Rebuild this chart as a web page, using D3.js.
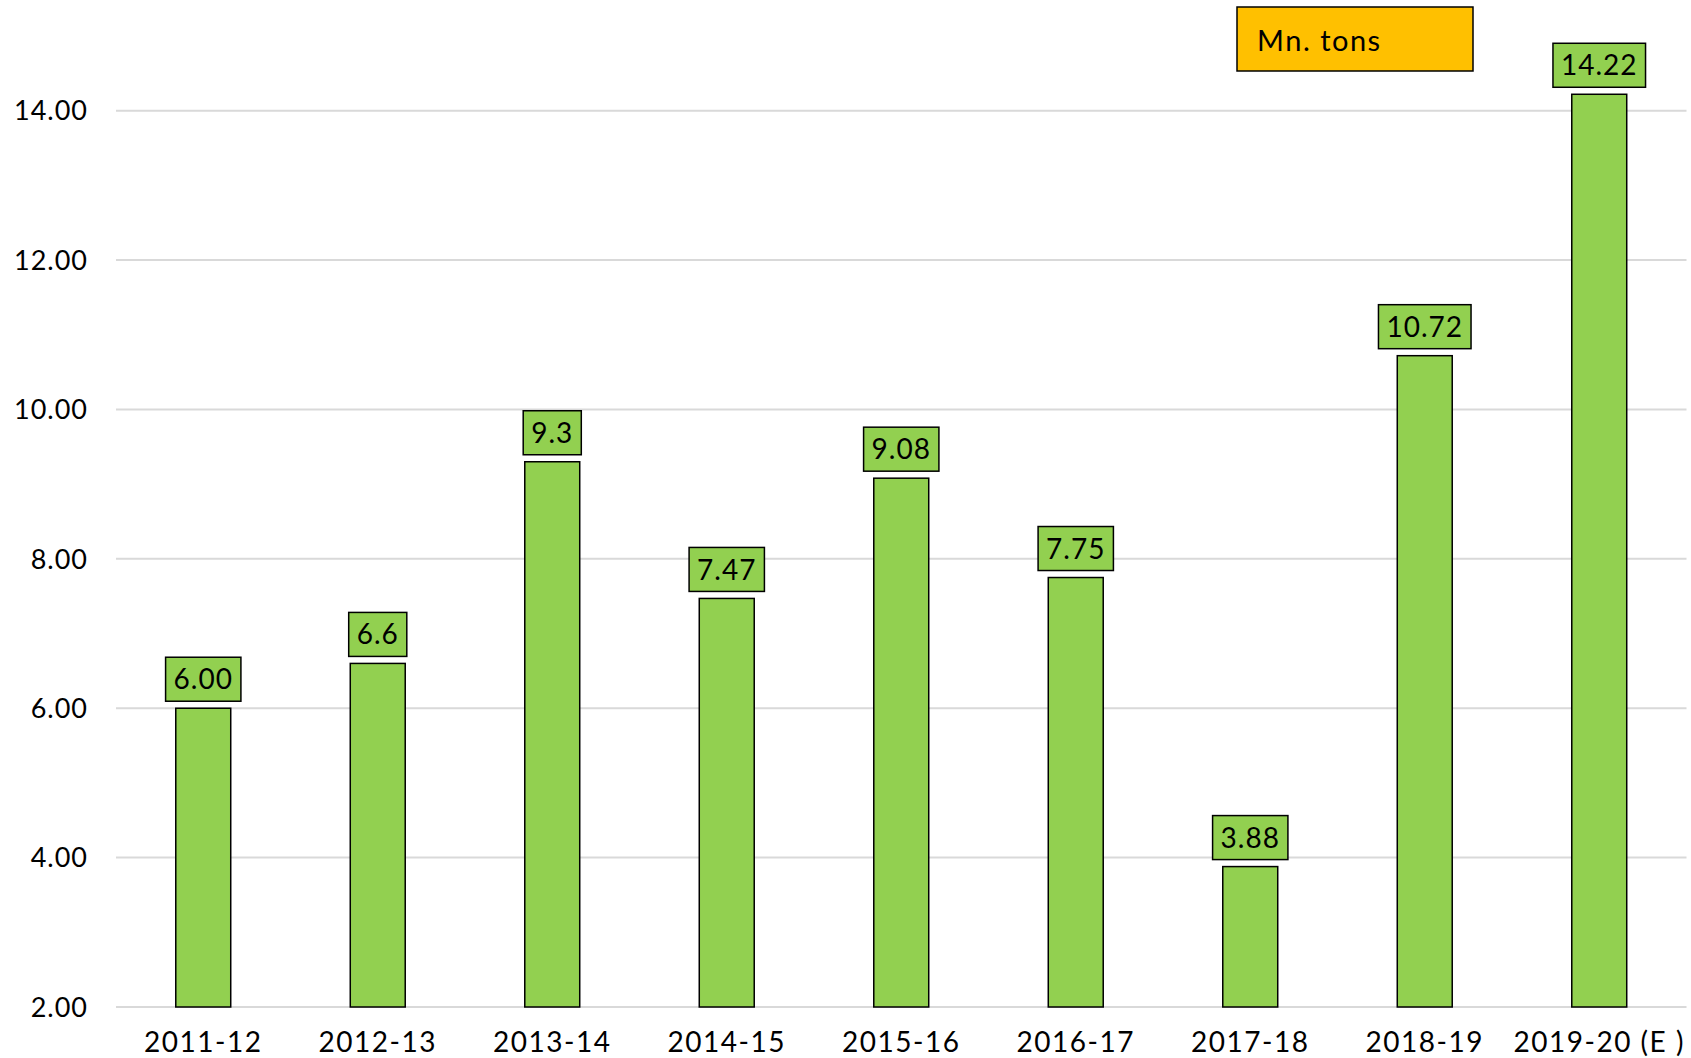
<!DOCTYPE html>
<html>
<head>
<meta charset="utf-8">
<script src="https://cdn.jsdelivr.net/npm/d3@7"></script>
<style>
  body { margin: 0; background: #fff; }
  text { font-family: "Century Gothic", Lato, "Noto Sans", sans-serif; fill: #000; }
</style>
</head>
<body>
<svg id="chart" width="1691" height="1058"></svg>
<script>
const years = ['2011-12', '2012-13', '2013-14', '2014-15', '2015-16', '2016-17', '2017-18', '2018-19', '2019-20 (E )'];
const values = [6.00, 6.6, 9.3, 7.47, 9.08, 7.75, 3.88, 10.72, 14.22];
const valueLabels = ['6.00', '6.6', '9.3', '7.47', '9.08', '7.75', '3.88', '10.72', '14.22'];
const yTicks = [2, 4, 6, 8, 10, 12, 14];
const unitLabel = 'Mn. tons';

const svg = d3.select('#chart');
const plotLeft = 116, plotRight = 1686.5, plotTop = 110.7, plotBottom = 1007;

const x = d3.scaleBand().domain(years).range([plotLeft, plotRight]).paddingInner(0.685).paddingOuter(0.3425);
const y = d3.scaleLinear().domain([2, 14]).range([plotBottom, plotTop]);

// gridlines
svg.append('g').selectAll('line')
  .data(yTicks)
  .enter().append('line')
  .attr('x1', plotLeft).attr('x2', plotRight)
  .attr('y1', d => y(d)).attr('y2', d => y(d))
  .attr('stroke', '#d9d9d9')
  .attr('stroke-width', 2);

// y tick labels
svg.append('g').selectAll('text')
  .data(yTicks)
  .enter().append('text')
  .attr('x', 88)
  .attr('y', d => y(d))
  .attr('dy', '0.36em')
  .attr('text-anchor', 'end')
  .style('font-size', '27px')
  .style('letter-spacing', '1px')
  .text(d => d.toFixed(2));

// bars
svg.append('g').selectAll('rect')
  .data(values)
  .enter().append('rect')
  .attr('x', (d, i) => x(years[i]))
  .attr('y', d => y(d))
  .attr('width', x.bandwidth())
  .attr('height', d => y(2) - y(d))
  .attr('fill', '#92d050')
  .attr('stroke', '#000')
  .attr('stroke-width', 1.5);

// x labels
svg.append('g').selectAll('text')
  .data(years)
  .enter().append('text')
  .attr('x', d => x(d) + x.bandwidth() / 2)
  .attr('y', 1052)
  .attr('text-anchor', 'middle')
  .style('font-size', '28px')
  .style('letter-spacing', '1.5px')
  .text(d => d);

// value label boxes
const lab = svg.append('g').selectAll('g')
  .data(values)
  .enter().append('g');

lab.each(function (d, i) {
  const g = d3.select(this);
  const cx = x(years[i]) + x.bandwidth() / 2;
  const boxBottom = y(d) - 7;
  const rect = g.append('rect');
  const t = g.append('text')
    .attr('x', cx)
    .attr('y', boxBottom - 22)
    .attr('dy', '0.36em')
    .attr('text-anchor', 'middle')
    .style('font-size', '28px')
    .style('letter-spacing', '1px')
    .text(valueLabels[i]);
  const w = t.node().getComputedTextLength() + 16;
  rect.attr('x', cx - w / 2)
    .attr('y', boxBottom - 44)
    .attr('width', w)
    .attr('height', 44)
    .attr('fill', '#92d050')
    .attr('stroke', '#000')
    .attr('stroke-width', 1.5);
});

// unit legend box
svg.append('rect')
  .attr('x', 1237).attr('y', 7)
  .attr('width', 236).attr('height', 64)
  .attr('fill', '#ffc000')
  .attr('stroke', '#000')
  .attr('stroke-width', 1.5);
svg.append('text')
  .attr('x', 1257).attr('y', 51)
  .style('font-size', '29px')
  .style('letter-spacing', '1.5px')
  .text(unitLabel);
</script>
</body>
</html>
